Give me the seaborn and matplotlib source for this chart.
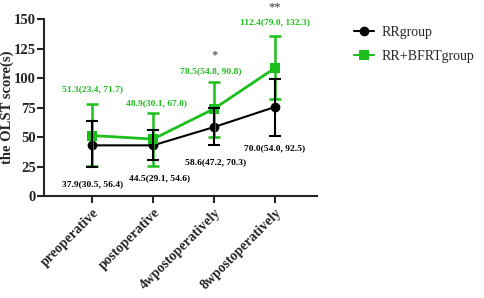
import numpy as np
import pandas as pd
import matplotlib
matplotlib.use("Agg")
import matplotlib.pyplot as plt
import seaborn as sns

# Data
stages = ["preoperative", "postoperative", "4wpostoperatively", "8wpostoperatively"]

rr_mean = [43.0, 43.0, 58.5, 75.5]
rr_upper = [63.5, 56.0, 74.5, 99.0]
rr_lower = [24.5, 30.5, 43.0, 51.0]

bfrt_mean = [51.3, 48.3, 74.0, 108.5]
bfrt_upper = [78.0, 70.6, 96.6, 135.6]
bfrt_lower = [25.4, 25.5, 50.0, 82.0]

rr_labels = ["37.9(30.5, 56.4)", "44.5(29.1, 54.6)", "58.6(47.2, 70.3)", "70.0(54.0, 92.5)"]
bfrt_labels = ["51.3(23.4, 71.7)", "48.9(30.1, 67.0)", "78.5(54.8, 90.8)", "112.4(79.0, 132.3)"]
# label placement (data units)
rr_label_y = [10, 15, 29, 41]
rr_label_dx = [0.0, 0.11, 0.02, 0.0]
bfrt_label_y = [91, 79, 106, 147]
bfrt_label_dx = [0.0, 0.06, -0.06, 0.0]

stars = ["", "", "*", "**"]
star_y = [0, 0, 119, 160]

GREEN = "#1cc01c"
BLACK = "black"

sns.set_style("ticks")
plt.rcParams["font.family"] = ["Liberation Serif", "DejaVu Serif"]
plt.rcParams["font.weight"] = "bold"

df = pd.DataFrame({
    "stage": stages * 2,
    "score": rr_mean + bfrt_mean,
    "group": ["RRgroup"] * 4 + ["RR+BFRTgroup"] * 4,
})

fig = plt.figure(figsize=(4.84, 2.98), dpi=100)
ax = fig.add_axes([0.091, 0.342, 0.564, 0.594])

sns.lineplot(data=df, x="stage", y="score", hue="group", style="group",
             markers={"RRgroup": "o", "RR+BFRTgroup": "s"}, dashes=False,
             palette={"RRgroup": BLACK, "RR+BFRTgroup": GREEN},
             markersize=7, markeredgewidth=0, ax=ax, sort=False)
for line, lw in zip(ax.lines, [1.5, 2.0]):
    line.set_linewidth(lw)

x = np.arange(len(stages))
m = np.array(rr_mean)
ax.errorbar(x, m, yerr=[m - np.array(rr_lower), np.array(rr_upper) - m],
            fmt="none", ecolor=BLACK, elinewidth=1.5, capsize=4, capthick=1.5, zorder=3)
m = np.array(bfrt_mean)
ax.errorbar(x, m, yerr=[m - np.array(bfrt_lower), np.array(bfrt_upper) - m],
            fmt="none", ecolor=GREEN, elinewidth=1.8, capsize=4, capthick=1.8, zorder=2)

for i in range(len(stages)):
    ax.text(x[i] + rr_label_dx[i], rr_label_y[i], rr_labels[i], ha="center", va="center",
            fontsize=6.8, color=BLACK, fontweight="bold")
    ax.text(x[i] + bfrt_label_dx[i], bfrt_label_y[i], bfrt_labels[i], ha="center", va="center",
            fontsize=6.8, color=GREEN, fontweight="bold")
    if stars[i]:
        ax.text(x[i], star_y[i], stars[i], ha="center", va="center",
                fontsize=9, color="#333333", fontweight="normal")

ax.set_xlim(-0.79, 3.69)
ax.set_ylim(0, 150)
ax.set_yticks([0, 25, 50, 75, 100, 125, 150])
ax.set_xlabel("")
ax.set_ylabel("the OLST score(s)", fontsize=10.5, fontweight="bold", labelpad=0)
ax.set_xticks(x)
ax.set_xticklabels(stages, rotation=45, ha="right", rotation_mode="anchor",
                   fontsize=10, fontweight="bold")
for t in ax.get_yticklabels():
    t.set_fontsize(10.5)
    t.set_fontweight("bold")
ax.tick_params(axis="both", width=1.5, length=5, pad=2)
ax.tick_params(axis="y", pad=1)
sns.despine(ax=ax)
for s in ["left", "bottom"]:
    ax.spines[s].set_linewidth(1.5)

leg = ax.legend(loc="upper left", bbox_to_anchor=(1.09, 1.03), frameon=False,
                fontsize=10, handlelength=1.4, handletextpad=0.6, labelspacing=0.75)
for t in leg.get_texts():
    t.set_fontweight("normal")

fig.savefig("out.png", dpi=100)
